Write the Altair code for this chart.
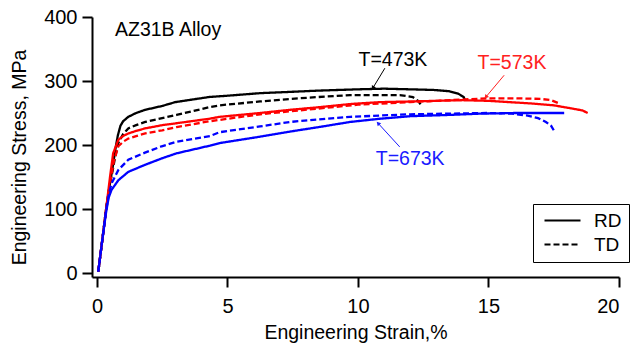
import altair as alt
import pandas as pd

FONT = "Liberation Sans"

# ---- curve data (Engineering strain %, Engineering stress MPa) ----
k473_rd_x = [0.05, 0.2, 0.35, 0.5, 0.6, 0.7, 0.8, 0.9, 1.0, 1.2, 1.5, 1.85, 2.5, 3.0, 4.3, 5.0, 6.25, 7.4, 8.5, 10.0, 11.0, 12.0, 12.9, 13.5, 13.85, 14.05, 14.1]
k473_rd_y = [2, 50, 100, 140, 165, 192, 215, 230, 237, 244, 250, 255, 261, 267, 275, 277, 281, 283, 285, 287, 288, 287, 286, 284, 280, 275, 270]

k473_td_x = [0.05, 0.2, 0.35, 0.5, 0.6, 0.7, 0.82, 1.0, 1.2, 1.5, 1.85, 2.5, 3.05, 4.3, 4.7, 6.25, 7.4, 8.5, 9.7, 10.1, 11.6, 12.1, 12.3, 12.45]
k473_td_y = [2, 50, 100, 140, 160, 182, 203, 217, 226, 231, 236, 242, 247, 259, 262, 268, 272, 275, 278, 278, 278, 275, 269, 261]

k573_rd_x = [0.05, 0.2, 0.35, 0.5, 0.62, 0.82, 1.0, 1.2, 1.5, 1.85, 2.5, 3.05, 4.3, 4.7, 6.25, 7.4, 8.5, 9.7, 10.84, 12.0, 14.0, 15.0, 16.6, 17.5, 18.2, 18.6, 18.8]
k573_rd_y = [2, 50, 100, 150, 187, 208, 214, 218, 222, 226, 231, 234, 241, 244, 250, 255, 259, 264, 267, 268, 270, 269, 265, 262, 257, 254, 250]

k573_td_x = [0.05, 0.2, 0.35, 0.5, 0.65, 0.82, 1.0, 1.2, 1.5, 1.85, 2.5, 3.05, 4.3, 6.25, 8.5, 10.0, 12.0, 14.0, 15.0, 16.0, 17.0, 17.4, 17.7]
k573_td_y = [2, 50, 98, 140, 175, 198, 205, 210, 214, 218, 223, 228, 237, 248, 257, 263, 267, 271, 273, 273, 272, 270, 265]

k673_rd_x = [0.05, 0.2, 0.35, 0.45, 0.56, 0.82, 1.2, 1.84, 2.48, 3.05, 4.33, 4.7, 6.25, 7.4, 8.5, 9.7, 10.84, 12.0, 13.5, 14.7, 16.0, 17.0, 17.9]
k673_rd_y = [2, 50, 95, 118, 130, 145, 158, 169, 179, 187, 199, 203, 213, 221, 228, 236, 241, 245, 247, 249, 250, 250, 250]

k673_td_x = [0.05, 0.2, 0.35, 0.45, 0.56, 0.82, 1.2, 1.84, 2.48, 3.05, 4.33, 4.7, 6.25, 7.4, 8.5, 9.7, 10.84, 12.0, 13.4, 15.0, 15.9, 16.5, 16.9, 17.2, 17.4, 17.5]
k673_td_y = [2, 50, 98, 122, 140, 161, 177, 188, 198, 205, 214, 220, 229, 236, 240, 244, 246, 248, 249, 250, 249, 246, 242, 236, 230, 223]

temps = ["473K", "573K", "673K"]
temp_colors = ["#000000", "#ff0000", "#0000ff"]
dirs = ["RD", "TD"]

series = [
    ("473K", "RD", k473_rd_x, k473_rd_y),
    ("473K", "TD", k473_td_x, k473_td_y),
    ("573K", "RD", k573_rd_x, k573_rd_y),
    ("573K", "TD", k573_td_x, k573_td_y),
    ("673K", "RD", k673_rd_x, k673_rd_y),
    ("673K", "TD", k673_td_x, k673_td_y),
]

rows = []
for t, d, xs, ys in series:
    for i, (x, y) in enumerate(zip(xs, ys)):
        rows.append({"strain": x, "stress": y, "temp": t, "dir": d, "key": t + d, "i": i})
df = pd.DataFrame(rows)

# ---- annotations ----
ann_text = ["T=473K", "T=573K", "T=673K"]
ann_x = [11.34, 15.9, 12.0]
ann_y = [333, 328, 178]
ann_color = ["#000000", "#ff2020", "#1a1aff"]
ann_df = pd.DataFrame({"text": ann_text, "x": ann_x, "y": ann_y, "color": ann_color})

title_text = ["AZ31B Alloy"]
title_x = [0.69]
title_y = [380]
title_df = pd.DataFrame({"text": title_text, "x": title_x, "y": title_y})

arrow_x = [11.03, 15.6, 11.6]
arrow_y = [320, 309, 197]
arrow_x2 = [10.57, 14.9, 10.77]
arrow_y2 = [289, 275, 234]
arrow_color = ["#000000", "#ff2020", "#1a1aff"]
arrow_angle = [211, 219, 317]
arr_df = pd.DataFrame({"x": arrow_x, "y": arrow_y, "x2": arrow_x2, "y2": arrow_y2,
                       "color": arrow_color, "angle": arrow_angle})

xscale = alt.Scale(domain=[-0.19, 20], nice=False, zero=False)
yscale = alt.Scale(domain=[-6.25, 400], nice=False, zero=False)

xaxis = alt.Axis(values=[0, 5, 10, 15, 20], title="Engineering Strain,%", grid=False,
                 titleBaseline="alphabetic", titleY=61)
yaxis = alt.Axis(values=[0, 100, 200, 300, 400], title="Engineering Stress, MPa", grid=False,
                 titleBaseline="alphabetic", titleX=-67, titleY=140)

lines = alt.Chart(df).mark_line(strokeWidth=2.3, clip=True).encode(
    x=alt.X("strain:Q", scale=xscale, axis=xaxis),
    y=alt.Y("stress:Q", scale=yscale, axis=yaxis),
    color=alt.Color("temp:N", scale=alt.Scale(domain=temps, range=temp_colors), legend=None),
    strokeDash=alt.StrokeDash("dir:N", scale=alt.Scale(domain=dirs, range=[[1, 0], [6, 3]]),
                              legend=alt.Legend(orient="none", legendX=441, legendY=187, title=None,
                                                symbolType="M-1,0H6.2", symbolSize=100,
                                                symbolStrokeWidth=2, symbolStrokeColor="black",
                                                symbolFillColor="transparent",
                                                labelFontSize=19, labelFont=FONT, labelOffset=35,
                                                strokeColor="black", fillColor="white",
                                                padding=7, rowPadding=4)),
    detail="key:N",
    order="i:Q",
)

texts = alt.Chart(ann_df).mark_text(fontSize=19.5, font=FONT, baseline="middle", align="center").encode(
    x=alt.X("x:Q", scale=xscale),
    y=alt.Y("y:Q", scale=yscale),
    text="text:N",
    color=alt.Color("color:N", scale=None),
)

title_mark = alt.Chart(title_df).mark_text(fontSize=19.5, font=FONT, baseline="middle", align="left",
                                           color="black").encode(
    x=alt.X("x:Q", scale=xscale),
    y=alt.Y("y:Q", scale=yscale),
    text="text:N",
)

arrows = alt.Chart(arr_df).mark_rule(strokeWidth=1).encode(
    x=alt.X("x:Q", scale=xscale), y=alt.Y("y:Q", scale=yscale),
    x2="x2:Q", y2="y2:Q",
    color=alt.Color("color:N", scale=None),
)

heads = alt.Chart(arr_df).mark_point(shape="triangle-up", filled=True, size=22, opacity=1).encode(
    x=alt.X("x2:Q", scale=xscale), y=alt.Y("y2:Q", scale=yscale),
    color=alt.Color("color:N", scale=None),
    angle=alt.Angle("angle:Q", scale=None),
)

chart = alt.layer(lines, arrows, heads, texts, title_mark).properties(
    width=527, height=260,
    padding={"left": 92, "top": 17, "right": 13, "bottom": 66},
    autosize="none",
).configure_view(stroke=None).configure_axis(
    domainColor="black", domainWidth=2, tickColor="black", tickWidth=2, tickSize=10,
    labelFont=FONT, labelFontSize=20, labelColor="black", labelPadding=5,
    titleFont=FONT, titleFontSize=19.5, titleFontWeight="normal", titleColor="black",
).configure_axisX(labelPadding=9).configure_legend(labelColor="black")

chart.save("out.html", embed_options={"renderer": "svg", "actions": False})
